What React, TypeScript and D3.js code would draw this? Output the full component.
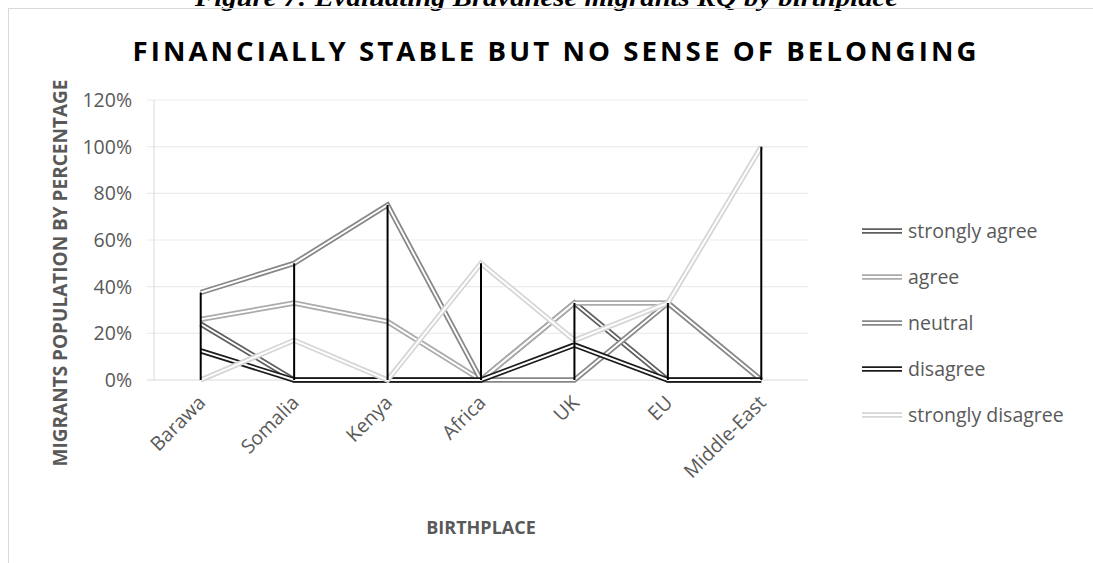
import { line as d3Line, max, min, scaleBand, scaleLinear } from "d3";

const categories = ["Barawa", "Somalia", "Kenya", "Africa", "UK", "EU", "Middle-East"];
const stronglyAgree = [24, 0, 0, 0, 33, 0, 0];
const agree = [26, 33, 25, 0, 33, 33, 0];
const neutral = [37.5, 50, 75, 0, 0, 33, 0];
const disagree = [12.5, 0, 0, 0, 15, 0, 0];
const stronglyDisagree = [0, 17, 0, 50, 17, 33, 100];
const seriesNames = ["strongly agree", "agree", "neutral", "disagree", "strongly disagree"];
const seriesColors = ["#5e5e5e", "#ababab", "#878787", "#1c1c1c", "#d6d6d6"];
const yTicks = [0, 20, 40, 60, 80, 100, 120];

const W = 1093;
const H = 563;
const margin = { left: 154, right: 1093 - 808, top: 100, bottom: 563 - 380 };
const FONT = "'Open Sans', 'DejaVu Sans', sans-serif";

export default function App() {
  const series = [stronglyAgree, agree, neutral, disagree, stronglyDisagree];

  const x = scaleBand<string>()
    .domain(categories)
    .range([margin.left, W - margin.right]);
  const y = scaleLinear()
    .domain([0, 120])
    .range([H - margin.bottom, margin.top]);
  const cx = (c: string) => (x(c) ?? 0) + x.bandwidth() / 2;

  const line = d3Line<number>()
    .x((_, i) => cx(categories[i]))
    .y((v) => y(v));

  // high-low lines per category
  const hiLo = categories.map((c, i) => {
    const vals = series.map((s) => s[i]);
    return { c, hi: max(vals) ?? 0, lo: min(vals) ?? 0 };
  });

  const [x0, x1] = x.range();

  return (
    <svg
      width={W}
      height={H}
      viewBox={`0 0 ${W} ${H}`}
      style={{ position: "absolute", left: 0, top: 0, background: "#fff" }}
    >
      {/* caption of the page, cut off at the top */}
      <text
        x={W / 2}
        y={6}
        textAnchor="middle"
        fontFamily="'Liberation Serif', serif"
        fontStyle="italic"
        fontWeight={700}
        fontSize={26}
        fill="#000"
        textLength={703}
        lengthAdjust="spacingAndGlyphs"
      >
        Figure 7: Evaluating Bravanese migrants RQ by birthplace
      </text>

      {/* chart area border */}
      <rect x={8.5} y={8.5} width={W + 20} height={H + 20} fill="none" stroke="#d9d9d9" strokeWidth={1} />

      {/* title */}
      <text
        x={556}
        y={61}
        textAnchor="middle"
        fontFamily={FONT}
        fontWeight={700}
        fontSize={27}
        letterSpacing={3}
        fill="#000"
        textLength={847}
        lengthAdjust="spacingAndGlyphs"
      >
        FINANCIALLY STABLE BUT NO SENSE OF BELONGING
      </text>

      {/* grid lines */}
      {yTicks.map((t) => (
        <line
          key={t}
          x1={x0 - 7}
          x2={x1}
          y1={y(t)}
          y2={y(t)}
          stroke={t === 0 ? "#d9d9d9" : "#ececec"}
          strokeWidth={1.2}
        />
      ))}
      <line x1={x0} x2={x0} y1={y(120)} y2={y(0)} stroke="#d9d9d9" strokeWidth={1} />

      {/* y tick labels */}
      {yTicks.map((t) => (
        <text
          key={t}
          x={132}
          y={y(t)}
          dy="0.36em"
          textAnchor="end"
          fontFamily={FONT}
          fontSize={19.5}
          fill="#595959"
        >
          {t}%
        </text>
      ))}

      {/* y axis title */}
      <text
        transform={`translate(67, 273) rotate(-90)`}
        textAnchor="middle"
        fontFamily={FONT}
        fontWeight={700}
        fontSize={19}
        fill="#595959"
      >
        MIGRANTS POPULATION BY PERCENTAGE
      </text>

      {/* series: double lines */}
      {series.map((s, k) => {
        const d = line(s) ?? "";
        return (
          <g key={seriesNames[k]}>
            <path d={d} fill="none" stroke={seriesColors[k]} strokeWidth={5.4} strokeLinejoin="miter" />
            <path d={d} fill="none" stroke="#fff" strokeWidth={1.9} strokeLinejoin="miter" />
          </g>
        );
      })}

      {/* high-low lines */}
      {hiLo.map((h) => (
        <line
          key={h.c}
          x1={cx(h.c)}
          x2={cx(h.c)}
          y1={y(h.hi)}
          y2={y(h.lo)}
          stroke="#000"
          strokeWidth={2}
        />
      ))}

      {/* x tick labels */}
      {categories.map((c) => (
        <text
          key={c}
          transform={`translate(${cx(c) - 4}, 394) rotate(-45)`}
          dy="0.72em"
          textAnchor="end"
          fontFamily={FONT}
          fontSize={19.5}
          fill="#595959"
        >
          {c}
        </text>
      ))}

      {/* x axis title */}
      <text
        x={(x0 + x1) / 2}
        y={534}
        textAnchor="middle"
        fontFamily={FONT}
        fontWeight={700}
        fontSize={18}
        fill="#595959"
      >
        BIRTHPLACE
      </text>

      {/* legend */}
      {seriesNames.map((n, k) => {
        const ly = 231 + k * 46;
        return (
          <g key={n}>
            <line x1={862} x2={902} y1={ly} y2={ly} stroke={seriesColors[k]} strokeWidth={5.4} />
            <line x1={862} x2={902} y1={ly} y2={ly} stroke="#fff" strokeWidth={1.9} />
            <text x={908} y={ly} dy="0.36em" fontFamily={FONT} fontSize={19.5} fill="#595959">
              {n}
            </text>
          </g>
        );
      })}
    </svg>
  );
}
